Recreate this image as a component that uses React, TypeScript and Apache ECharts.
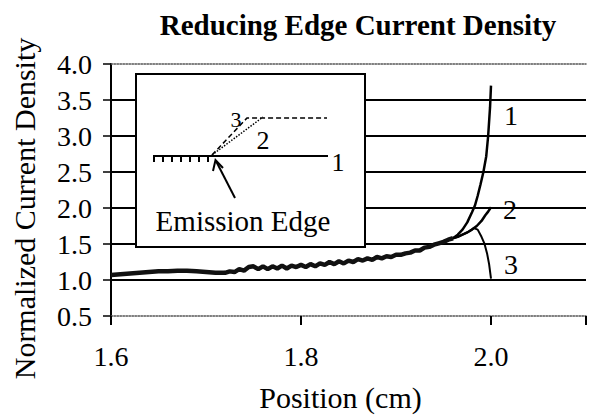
import React, { useEffect, useRef } from "react";
import * as echarts from "echarts";

const mainX = [1.6, 1.61, 1.62, 1.63, 1.64, 1.65, 1.66, 1.67, 1.68, 1.69, 1.7, 1.71, 1.72, 1.725, 1.73, 1.735, 1.74, 1.745, 1.75, 1.755, 1.76, 1.765, 1.77, 1.775, 1.78, 1.785, 1.79, 1.795, 1.8, 1.805, 1.81, 1.815, 1.82, 1.825, 1.83, 1.835, 1.84, 1.845, 1.85, 1.855, 1.86, 1.865, 1.87, 1.875, 1.88, 1.885, 1.89, 1.895, 1.9, 1.905, 1.91, 1.915, 1.92, 1.925, 1.93, 1.935, 1.94, 1.945, 1.95, 1.955, 1.96];
const mainY = [1.07, 1.08, 1.09, 1.1, 1.11, 1.12, 1.12, 1.13, 1.13, 1.12, 1.11, 1.1, 1.1, 1.12, 1.11, 1.15, 1.13, 1.18, 1.19, 1.15, 1.19, 1.15, 1.19, 1.16, 1.2, 1.16, 1.2, 1.18, 1.21, 1.18, 1.22, 1.19, 1.23, 1.21, 1.25, 1.22, 1.26, 1.23, 1.27, 1.25, 1.29, 1.27, 1.3, 1.28, 1.32, 1.3, 1.33, 1.32, 1.35, 1.35, 1.37, 1.38, 1.41, 1.41, 1.45, 1.46, 1.49, 1.51, 1.53, 1.56, 1.58];

const c1X = [1.96, 1.965, 1.97, 1.975, 1.98, 1.983, 1.986, 1.989, 1.992, 1.995, 1.997, 1.999, 2.0];
const c1Y = [1.58, 1.63, 1.7, 1.8, 1.94, 2.03, 2.17, 2.33, 2.5, 2.72, 3.0, 3.4, 3.7];

const c2X = [1.96, 1.965, 1.97, 1.975, 1.98, 1.985, 1.99, 1.994, 1.997, 2.0];
const c2Y = [1.58, 1.6, 1.63, 1.66, 1.7, 1.75, 1.82, 1.9, 1.95, 2.01];

const c3X = [1.96, 1.965, 1.97, 1.975, 1.982, 1.986, 1.99, 1.993, 1.996, 1.998, 2.0];
const c3Y = [1.58, 1.6, 1.63, 1.66, 1.72, 1.7, 1.6, 1.51, 1.36, 1.22, 1.02];

const curveLabels = ["1", "2", "3"];
const insetLabels = ["1", "2", "3"];

const zip = (xs: number[], ys: number[]) => xs.map((x, i) => [x, ys[i]]);

const FONT = "Liberation Serif";

export default function App() {
  const ref = useRef<HTMLDivElement>(null);
  useEffect(() => {
    if (!ref.current) return;
    const chart = echarts.init(ref.current, undefined, { renderer: "svg" });
    const lineBase = { type: "line", showSymbol: false, symbol: "none", smooth: false, silent: true };
    const hashes = [154, 163, 172, 181, 190, 199, 208].map((x) => ({
      type: "line",
      shape: { x1: x, y1: 156, x2: x, y2: 162 },
      style: { stroke: "#000", lineWidth: 2 },
      z: 102,
    }));
    const fmt = (v: number) => (v > 2.05 ? "" : v.toFixed(1));
    const lbl = { fontFamily: FONT, fontSize: 28, color: "#000" };
    chart.setOption({
      animation: false,
      backgroundColor: "#fff",
      title: {
        text: "Reducing Edge Current Density",
        left: 353,
        top: 5,
        textAlign: "center",
        textStyle: { fontFamily: FONT, fontWeight: "bold", fontSize: 29, color: "#000" },
      },
      grid: { left: 111, width: 483, top: 64, bottom: 92, containLabel: false },
      xAxis: [
        {
          type: "value",
          min: 1.6,
          max: 2.1,
          interval: 0.2,
          name: "Position (cm)",
          nameLocation: "middle",
          nameGap: 66,
          nameTextStyle: { fontFamily: FONT, fontSize: 30, color: "#000", padding: [0, 16, 0, 0] },
          axisLine: { onZero: false, lineStyle: { color: "#555", width: 1.5, type: "dotted" } },
          axisTick: { show: true, inside: false, length: 9, lineStyle: { color: "#000", width: 2 } },
          axisLabel: { margin: 26, ...lbl, formatter: fmt },
          splitLine: { show: false },
        },
        {
          type: "value",
          position: "top",
          min: 1.6,
          max: 2.1,
          interval: 0.2,
          axisLine: { onZero: false, lineStyle: { color: "#555", width: 1.5, type: "dotted" } },
          axisTick: { show: false },
          axisLabel: { show: false },
          splitLine: { show: false },
        },
      ],
      yAxis: {
        type: "value",
        min: 0.5,
        max: 4.0,
        interval: 0.5,
        name: "Normalized Current Density",
        nameLocation: "middle",
        nameGap: 72,
        nameTextStyle: { fontFamily: FONT, fontSize: 30, color: "#000", padding: [0, 37, 0, 0] },
        axisLine: { show: true, lineStyle: { color: "#000", width: 2 } },
        axisTick: { show: true, inside: false, length: 8, lineStyle: { color: "#000", width: 1.5 } },
        axisLabel: { margin: 19, ...lbl, formatter: (v: number) => v.toFixed(1) },
        splitLine: {
          show: true,
          lineStyle: {
            color: ["transparent", "#000", "#000", "#000", "#000", "#000", "#000", "transparent"],
            width: 2,
          },
        },
      },
      series: [
        { ...lineBase, name: "main", data: zip(mainX, mainY), lineStyle: { color: "#111", width: 4.5 } },
        {
          ...lineBase,
          name: "1",
          data: zip(c1X, c1Y),
          lineStyle: { color: "#000", width: 2.5 },
          endLabel: { show: true, formatter: curveLabels[0], offset: [5, 30], ...lbl },
        },
        {
          ...lineBase,
          name: "2",
          data: zip(c2X, c2Y),
          lineStyle: { color: "#000", width: 2.5 },
          endLabel: { show: true, formatter: curveLabels[1], offset: [4, 2], ...lbl },
        },
        {
          ...lineBase,
          name: "3",
          data: zip(c3X, c3Y),
          lineStyle: { color: "#000", width: 2 },
          endLabel: { show: true, formatter: curveLabels[2], offset: [5, -14], ...lbl },
        },
      ],
      graphic: [
        {
          type: "rect",
          shape: { x: 136, y: 74, width: 229, height: 173 },
          style: { fill: "#fff", stroke: "#000", lineWidth: 2 },
          z: 100,
        },
        {
          type: "line",
          shape: { x1: 153, y1: 156, x2: 328, y2: 156 },
          style: { stroke: "#000", lineWidth: 2 },
          z: 102,
        },
        ...hashes,
        {
          type: "line",
          shape: { x1: 212, y1: 155, x2: 263, y2: 117 },
          style: { stroke: "#000", lineWidth: 1.5, lineDash: [1.5, 1.5] },
          z: 102,
        },
        {
          type: "polyline",
          shape: { points: [[212, 155], [247, 118], [327, 118]] },
          style: { stroke: "#000", fill: "none", lineWidth: 1.5, lineDash: [5, 3] },
          z: 102,
        },
        {
          type: "line",
          shape: { x1: 235, y1: 198, x2: 216, y2: 161 },
          style: { stroke: "#000", lineWidth: 2 },
          z: 102,
        },
        {
          type: "polyline",
          shape: { points: [[213, 171], [215.5, 160], [223, 168]] },
          style: { stroke: "#000", fill: "none", lineWidth: 2 },
          z: 102,
        },
        {
          type: "text",
          x: 236,
          y: 119,
          style: { text: insetLabels[2], font: `22px ${FONT}`, fill: "#000", align: "center", verticalAlign: "middle" },
          z: 103,
        },
        {
          type: "text",
          x: 263,
          y: 140,
          style: { text: insetLabels[1], font: `26px ${FONT}`, fill: "#000", align: "center", verticalAlign: "middle" },
          z: 103,
        },
        {
          type: "text",
          x: 338,
          y: 162,
          style: { text: insetLabels[0], font: `26px ${FONT}`, fill: "#000", align: "center", verticalAlign: "middle" },
          z: 103,
        },
        {
          type: "text",
          x: 243,
          y: 221,
          style: { text: "Emission Edge", font: `29px ${FONT}`, fill: "#000", align: "center", verticalAlign: "middle" },
          z: 103,
        },
      ],
    });
    return () => chart.dispose();
  }, []);
  return <div ref={ref} style={{ width: 589, height: 417, position: "absolute", left: 0, top: 0 }} />;
}
